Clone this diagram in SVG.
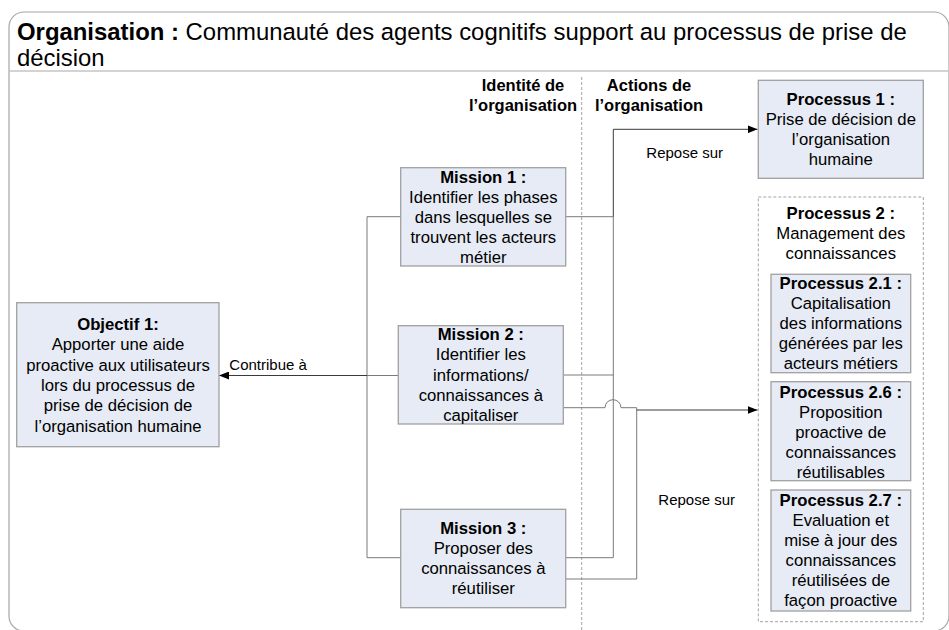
<svg xmlns="http://www.w3.org/2000/svg" width="949" height="630" viewBox="0 0 949 630">
<defs>
<style>
text{font-family:"Liberation Sans",Arial,sans-serif;fill:#000}
.t{font-size:16.7px;text-anchor:middle}
.b{font-weight:bold}
.hd{font-size:16.5px;font-weight:bold;text-anchor:middle}
.lbl{font-size:15px}
.box{fill:#e6ebf5;stroke:#a0a0a0;stroke-width:1.3}
.dbox{fill:#fff;stroke:#a3a3a3;stroke-width:1;stroke-dasharray:3 2}
.con{fill:none;stroke:#7a7a7a;stroke-width:1}
.arr{fill:none;stroke:#3a3a3a;stroke-width:1;marker-end:url(#ah)}
</style>
<marker id="ah" markerWidth="10" markerHeight="8" refX="10" refY="4" orient="auto" markerUnits="userSpaceOnUse">
<path d="M0,0 L10,4 L0,8 z" fill="#000"/>
</marker>
</defs>
<rect width="949" height="630" fill="#fff"/>
<g id="frame">
<rect x="9" y="12" width="940" height="619" rx="15" ry="15" fill="none" stroke="#a6a6a6" stroke-width="1.2"/>
<line x1="9" y1="71" x2="949" y2="71" stroke="#c4c4c4" stroke-width="1.6"/>
<text x="17" y="40" style="font-size:23.9px"><tspan class="b">Organisation :</tspan> Communauté des agents cognitifs support au processus de prise de</text>
<text x="17" y="65.5" style="font-size:23.9px">décision</text>
</g>
<g id="columns">
<line x1="581.7" y1="77" x2="581.7" y2="630" stroke="#a3a3a3" stroke-width="1" stroke-dasharray="3 2"/>
<text class="hd" x="523" y="91">Identité de</text>
<text class="hd" x="523" y="110.5">l’organisation</text>
<text class="hd" x="649" y="91">Actions de</text>
<text class="hd" x="649" y="110.5">l’organisation</text>
</g>
<g id="connectors">
<path class="con" d="M401,216.7 H367 V557.7 H401"/>
<path class="con" d="M398,375.5 H367"/>
<path class="arr" d="M367,375.5 H219"/>
<path class="con" d="M566,216.7 H613.3 V557.7 H566"/>
<path class="con" d="M563,375 H613.3"/>
<path class="arr" d="M613.3,216.7 V129.3 H757.5"/>
<path class="con" d="M563,407.7 H605 A8,8 0 0 1 621,407.7 H636.7 V579 H566"/>
<path class="arr" d="M636.7,410 H757.5"/>
<text class="lbl" x="229.3" y="369.5">Contribue à</text>
<text class="lbl" x="684.7" y="158" text-anchor="middle">Repose sur</text>
<text class="lbl" x="696.7" y="505" text-anchor="middle">Repose sur</text>
</g>
<g id="objectif1">
<rect class="box" x="16.7" y="302.7" width="202.3" height="144"/>
<text class="t" x="118" y="330"><tspan class="b">Objectif 1:</tspan><tspan x="118" dy="20.3">Apporter une aide</tspan><tspan x="118" dy="20.3">proactive aux utilisateurs</tspan><tspan x="118" dy="20.3">lors du processus de</tspan><tspan x="118" dy="20.3">prise de décision de</tspan><tspan x="118" dy="20.3">l’organisation humaine</tspan></text>
</g>
<g id="mission1">
<rect class="box" x="400.7" y="167.7" width="165" height="98.3"/>
<text class="t" x="483.3" y="182.7"><tspan class="b">Mission 1 :</tspan><tspan x="483.3" dy="20">Identifier les phases</tspan><tspan x="483.3" dy="20">dans lesquelles se</tspan><tspan x="483.3" dy="20">trouvent les acteurs</tspan><tspan x="483.3" dy="20">métier</tspan></text>
</g>
<g id="mission2">
<rect class="box" x="398.3" y="325.7" width="165" height="98.3"/>
<text class="t" x="480.8" y="340"><tspan class="b">Mission 2 :</tspan><tspan x="480.8" dy="20.3">Identifier les</tspan><tspan x="480.8" dy="20.3">informations/</tspan><tspan x="480.8" dy="20.3">connaissances à</tspan><tspan x="480.8" dy="20.3">capitaliser</tspan></text>
</g>
<g id="mission3">
<rect class="box" x="400.7" y="509.3" width="165" height="98.4"/>
<text class="t" x="483.3" y="534.3"><tspan class="b">Mission 3 :</tspan><tspan x="483.3" dy="20">Proposer des</tspan><tspan x="483.3" dy="20">connaissances à</tspan><tspan x="483.3" dy="20">réutiliser</tspan></text>
</g>
<g id="processus1">
<rect class="box" x="758.3" y="80.3" width="165" height="98"/>
<text class="t" x="840.8" y="105.3"><tspan class="b">Processus 1 :</tspan><tspan x="840.8" dy="20">Prise de décision de</tspan><tspan x="840.8" dy="20">l’organisation</tspan><tspan x="840.8" dy="20">humaine</tspan></text>
</g>
<g id="processus2">
<rect class="dbox" x="758.3" y="197" width="165" height="424.7"/>
<text class="t" x="840.8" y="218.7"><tspan class="b">Processus 2 :</tspan><tspan x="840.8" dy="20">Management des</tspan><tspan x="840.8" dy="20">connaissances</tspan></text>
</g>
<g id="processus2_1">
<rect class="box" x="771" y="274.3" width="139.7" height="98.4"/>
<text class="t" x="840.8" y="289.3"><tspan class="b">Processus 2.1 :</tspan><tspan x="840.8" dy="19.9">Capitalisation</tspan><tspan x="840.8" dy="19.9">des informations</tspan><tspan x="840.8" dy="19.9">générées par les</tspan><tspan x="840.8" dy="19.9">acteurs métiers</tspan></text>
</g>
<g id="processus2_6">
<rect class="box" x="771" y="381.7" width="139.7" height="99"/>
<text class="t" x="840.8" y="397.7"><tspan class="b">Processus 2.6 :</tspan><tspan x="840.8" dy="20">Proposition</tspan><tspan x="840.8" dy="20">proactive de</tspan><tspan x="840.8" dy="20">connaissances</tspan><tspan x="840.8" dy="20">réutilisables</tspan></text>
</g>
<g id="processus2_7">
<rect class="box" x="771" y="490" width="139.7" height="121"/>
<text class="t" x="840.8" y="506"><tspan class="b">Processus 2.7 :</tspan><tspan x="840.8" dy="20">Evaluation et</tspan><tspan x="840.8" dy="20">mise à jour des</tspan><tspan x="840.8" dy="20">connaissances</tspan><tspan x="840.8" dy="20">réutilisées de</tspan><tspan x="840.8" dy="20">façon proactive</tspan></text>
</g>
</svg>
